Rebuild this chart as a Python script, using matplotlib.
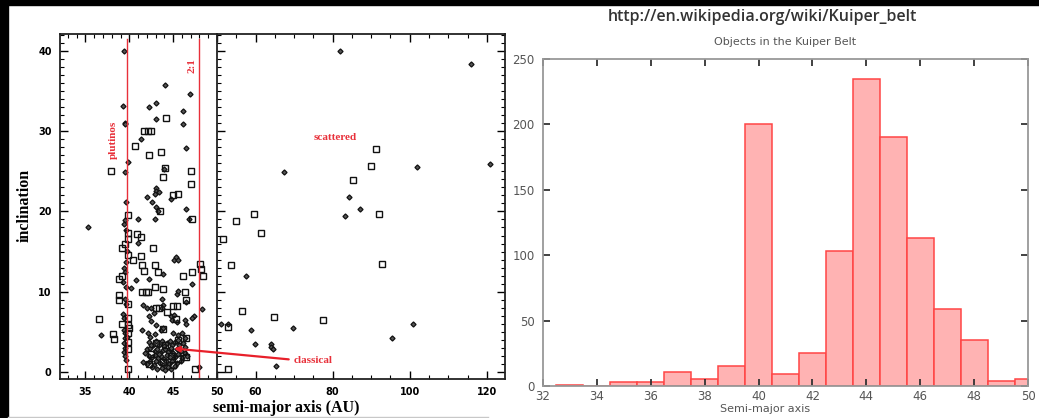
import numpy as np
import matplotlib
matplotlib.use('Agg')
import matplotlib.pyplot as plt
from matplotlib.patches import Rectangle, ConnectionPatch
from matplotlib.lines import Line2D
from matplotlib.ticker import MultipleLocator

# ---- left panel: inclination vs semi-major axis ----
diamond_a = [82.0, 115.8, 101.9, 120.8, 67.3, 84.2, 87.1, 83.2, 57.4, 51.1, 52.9, 100.9, 58.8, 69.7,
             95.5, 59.9, 63.9, 64.1, 64.4, 65.2,
             39.4, 44.05, 46.9, 39.3, 42.2, 43.1, 46.1, 43.0, 39.5, 39.55, 46.1, 41.3, 46.5, 39.9, 39.5,
             44.0, 43.0, 43.1, 42.9, 43.4, 42.0, 42.6, 44.8, 39.6, 43.1, 43.3, 46.5, 42.9, 46.8, 35.3,
             41.0, 39.5, 39.4, 39.6, 41.0, 39.7, 39.6, 43.9, 45.1, 45.3, 45.6, 39.4, 39.5, 39.3, 39.6,
             40.2, 47.2, 40.8, 42.2, 43.7, 39.5, 39.6, 45.4, 45.5, 46.5, 48.3, 41.6, 42.0, 42.5, 43.9,
             43.7, 47.4, 47.2, 39.3, 39.4, 42.8, 42.2, 42.5, 43.0, 44.7, 45.1, 44.9, 45.4, 46.4, 46.5,
             36.8, 39.4, 39.5, 39.5, 39.4, 39.5, 39.4, 39.5, 39.6, 39.7, 41.4, 42.1, 42.4, 42.9, 43.6,
             43.9, 45.0, 45.5, 46.0, 46.4, 48.0]
diamond_inc = [40.0, 38.4, 25.5, 25.9, 24.9, 21.8, 20.3, 19.4, 12.0, 6.0, 6.0, 6.0, 5.2, 5.4,
               4.2, 3.5, 3.5, 3.1, 2.9, 0.7,
               40.0, 35.8, 34.7, 33.1, 33.0, 33.5, 32.5, 31.5, 31.0, 30.9, 30.9, 29.0, 27.9, 26.2, 24.9,
               25.3, 22.9, 22.5, 22.2, 22.4, 21.8, 21.2, 21.5, 21.2, 20.5, 20.0, 20.3, 19.0, 19.1, 18.0,
               19.1, 18.9, 18.4, 17.7, 16.1, 15.1, 13.7, 12.2, 14.0, 14.3, 13.9, 12.9, 12.4, 11.2, 10.6,
               10.4, 11.0, 11.4, 11.6, 9.1, 9.1, 8.5, 9.7, 10.1, 8.7, 7.8, 8.3, 8.0, 8.0, 8.3,
               8.0, 6.9, 6.7, 7.2, 6.7, 7.3, 6.9, 6.3, 5.8, 6.9, 7.1, 6.5, 6.2, 6.4, 6.0,
               4.6, 5.2, 4.8, 4.2, 3.6, 3.0, 2.5, 2.0, 1.5, 4.4, 5.2, 4.8, 4.4, 4.7, 5.2,
               5.4, 4.8, 4.6, 4.8, 4.2, 0.6]

# the dense "classical" clump near 42-47 AU, low inclination
clump_a = [42.3, 42.7, 43.0, 43.4, 43.7, 44.0, 44.3, 44.6, 44.9, 45.2, 45.7, 46.1, 46.4,
           42.0, 42.4, 42.9, 43.2, 43.5, 43.8, 44.1, 44.4, 44.7, 45.0, 45.4, 45.9, 46.3,
           41.8, 42.2, 42.6, 42.9, 43.3, 43.6, 44.0, 44.3, 44.6, 45.2, 45.6, 46.0, 46.6,
           41.6, 42.0, 42.4, 42.8, 43.1, 43.5, 43.9, 44.2, 44.5, 44.9, 45.4, 45.9,
           42.6, 43.2, 43.7, 44.1, 44.4, 44.8, 45.2, 43.4, 44.8, 42.5, 45.5]
clump_inc = [3.7, 3.3, 3.9, 3.4, 3.8, 3.2, 3.6, 3.9, 3.4, 3.7, 3.3, 3.6, 3.1,
             2.8, 3.0, 2.6, 2.9, 2.4, 2.7, 2.9, 2.5, 2.8, 2.4, 2.9, 2.6, 2.3,
             2.3, 2.0, 1.8, 2.1, 1.7, 2.0, 1.6, 2.1, 1.8, 1.9, 2.2, 1.7, 2.0,
             1.2, 1.0, 1.4, 0.9, 1.3, 1.1, 0.8, 1.3, 1.0, 1.4, 1.1, 1.3,
             0.6, 0.4, 0.5, 0.2, 0.6, 0.3, 0.7, 2.2, 3.0, 3.4, 4.0]

square_a = [91.3, 90.0, 85.2, 92.0, 59.7, 54.8, 61.5, 51.5, 53.7, 92.9, 56.5, 64.7, 77.4, 52.9, 52.8,
            44.2, 41.7, 42.1, 42.5, 40.6, 42.2, 43.6, 37.9, 47.0, 44.1, 43.8, 47.0, 45.0, 45.5, 43.5,
            47.2, 39.8, 39.8, 39.8, 40.9, 41.3, 39.2, 39.5, 42.7, 39.9, 40.4, 41.3, 41.5, 41.7, 42.9,
            43.3, 38.8, 39.2, 46.1, 47.2, 48.1, 48.2, 48.4, 41.5, 41.9, 42.1, 42.9, 43.8, 38.8, 38.8,
            39.9, 46.4, 46.5, 43.1, 43.4, 45.0, 45.4, 44.3, 36.6, 39.2, 39.9, 39.8, 40.0, 39.9, 45.3,
            38.1, 38.2, 39.8, 39.8, 39.8, 43.9, 46.5, 45.6, 42.5, 43.0, 44.1, 44.8, 45.6, 46.1, 46.5,
            43.8, 42.3, 45.0, 47.5]
square_inc = [27.8, 25.7, 23.9, 19.7, 19.7, 18.8, 17.3, 16.6, 13.3, 13.4, 7.6, 6.8, 6.4, 5.6, 0.3,
              31.6, 30.0, 30.0, 30.0, 28.2, 27.0, 27.4, 25.0, 25.0, 25.4, 24.3, 23.4, 22.0, 22.2, 20.0,
              19.1, 19.5, 17.3, 16.6, 17.2, 16.8, 15.5, 15.9, 15.4, 14.6, 13.9, 14.5, 13.3, 12.6, 13.3,
              12.4, 11.6, 12.0, 12.0, 12.4, 13.5, 12.8, 11.9, 9.9, 9.9, 9.9, 10.6, 10.3, 9.6, 8.9,
              8.5, 9.9, 9.0, 8.0, 7.9, 8.2, 8.2, 7.4, 6.6, 6.0, 6.7, 5.8, 5.4, 4.8, 6.6,
              4.7, 4.1, 3.7, 2.9, 0.4, 5.3, 4.2, 4.0, 2.2, 3.6, 3.3, 2.0, 1.6, 2.5, 1.8,
              1.2, 1.0, 0.8, 0.3]

# ---- right panel: histogram of semi-major axis ----
bin_edges = [32.5, 33.5, 34.5, 35.5, 36.5, 37.5, 38.5, 39.5, 40.5, 41.5, 42.5, 43.5, 44.5,
             45.5, 46.5, 47.5, 48.5, 49.5, 50.5]
counts = [1, 0, 3, 3, 11, 5, 15, 200, 9, 25, 103, 235, 190, 113, 59, 35, 4, 5]

W, H = 1039, 418
fig = plt.figure(figsize=(W / 100, H / 100), dpi=100, facecolor='white')

# black frame bits of the screenshot
fig.add_artist(Rectangle((0, 1 - 5 / H), 1, 5 / H, transform=fig.transFigure, color='black', zorder=0))
fig.add_artist(Rectangle((0, 0), 8 / W, 1, transform=fig.transFigure, color='black', zorder=0))
fig.add_artist(Line2D([8 / W, 488 / W], [1.5 / H, 1.5 / H], transform=fig.transFigure,
                      color='#c8c8c8', lw=1))

serif = 'Liberation Serif'
bot, top = 1 - 379 / H, 1 - 33.5 / H
ax1 = fig.add_axes([60 / W, bot, 157 / W, top - bot])
ax2 = fig.add_axes([217 / W, bot, 288 / W, top - bot], sharey=ax1)

for ax in (ax1, ax2):
    ax.plot(diamond_a + clump_a, diamond_inc + clump_inc, 'D', ms=2.6, mfc='#555555',
            mec='#111111', mew=0.9, ls='none')
    ax.plot(square_a, square_inc, 's', ms=3.8, mfc='none', mec='#111111', mew=1.0, ls='none')
    for s in ax.spines.values():
        s.set_linewidth(1.3)
        s.set_color('#222222')
    ax.tick_params(which='both', direction='in', top=True, labelsize=7, pad=6)
    ax.tick_params(which='major', length=6, width=1)
    ax.tick_params(which='minor', length=3, width=0.8)
    ax.yaxis.set_minor_locator(MultipleLocator(1))

ax1.set_xlim(32.1, 50)
ax1.set_ylim(-0.9, 42.2)
ax1.set_xticks([35, 40, 45, 50])
ax1.xaxis.set_minor_locator(MultipleLocator(1))
ax1.set_yticks([0, 10, 20, 30, 40])
ax1.spines['right'].set_visible(False)
ax1.tick_params(which='both', right=False)

ax2.set_xlim(50, 124.7)
ax2.set_xticks([50, 60, 80, 100, 120])
ax2.set_xticklabels(['', '60', '80', '100', '120'])
ax2.xaxis.set_minor_locator(MultipleLocator(5))
ax2.tick_params(which='both', right=True, labelleft=False)
for lab in ax1.get_xticklabels() + ax1.get_yticklabels() + ax2.get_xticklabels():
    lab.set_fontweight('bold')

ax1.axvline(39.7, ymax=0.985, color='#e8303a', lw=1)
ax1.axvline(48.0, ymax=0.985, color='#e8303a', lw=1)
ax1.text(38.2, 28.9, 'plutinos', rotation=90, color='#e8303a', family=serif,
         weight='bold', fontsize=8, ha='center', va='center')
ax1.text(47.2, 38.2, '2:1', rotation=90, color='#e8303a', family=serif,
         weight='bold', fontsize=8, ha='center', va='center')
ax2.text(80.6, 29.2, 'scattered', color='#e8303a', family=serif,
         weight='bold', fontsize=8, ha='center', va='center')
ax2.text(69.8, 1.4, 'classical', color='#e8303a', family=serif,
         weight='bold', fontsize=8, ha='left', va='center')
arrow = ConnectionPatch(xyA=(68.6, 1.55), coordsA=ax2.transData, xyB=(45.1, 2.9),
                        coordsB=ax1.transData, arrowstyle='-|>', color='#e8202a', lw=1.6,
                        mutation_scale=8)
fig.add_artist(arrow)

fig.text(25 / W, 1 - 205 / H, 'inclination', rotation=90, family=serif, weight='bold',
         fontsize=11.5, ha='center', va='center')
fig.text(286 / W, 1 - 408 / H, 'semi-major axis (AU)', family=serif, weight='bold',
         fontsize=11.5, ha='center', va='center')

# ---- histogram ----
hx0, hx1, hy0, hy1 = 543, 1028, 386, 59
ax3 = fig.add_axes([hx0 / W, 1 - hy0 / H, (hx1 - hx0) / W, (hy0 - hy1) / H])
ax3.bar(bin_edges[:-1], counts, width=np.diff(bin_edges), align='edge',
        facecolor=(1.0, 0.7, 0.7), edgecolor='#ff4545', lw=1.1)
ax3.set_xlim(32, 50)
ax3.set_ylim(0, 250)
ax3.set_xticks(np.arange(32, 51, 2))
ax3.set_yticks([0, 50, 100, 150, 200, 250])
for s in ax3.spines.values():
    s.set_color('#999999')
    s.set_linewidth(1.3)
ax3.tick_params(direction='in', top=True, right=True, length=5, width=1.3,
                color='#333333', labelcolor='#555555', labelsize=8.5)
ax3.tick_params(axis='x', pad=3)
ax3.tick_params(axis='y', pad=6)
ax3.set_title('Objects in the Kuiper Belt', fontsize=8, color='#555555', pad=10)
fig.text(765 / W, 1 - 409 / H, 'Semi-major axis', fontsize=8, color='#555555',
         ha='center', va='center')
fig.text(762 / W, 1 - 17 / H, 'http://en.wikipedia.org/wiki/Kuiper_belt', family='Open Sans',
         weight='semibold', fontsize=11.5, color='#333333', ha='center', va='center')

fig.savefig('out.png', dpi=100, facecolor='white')
